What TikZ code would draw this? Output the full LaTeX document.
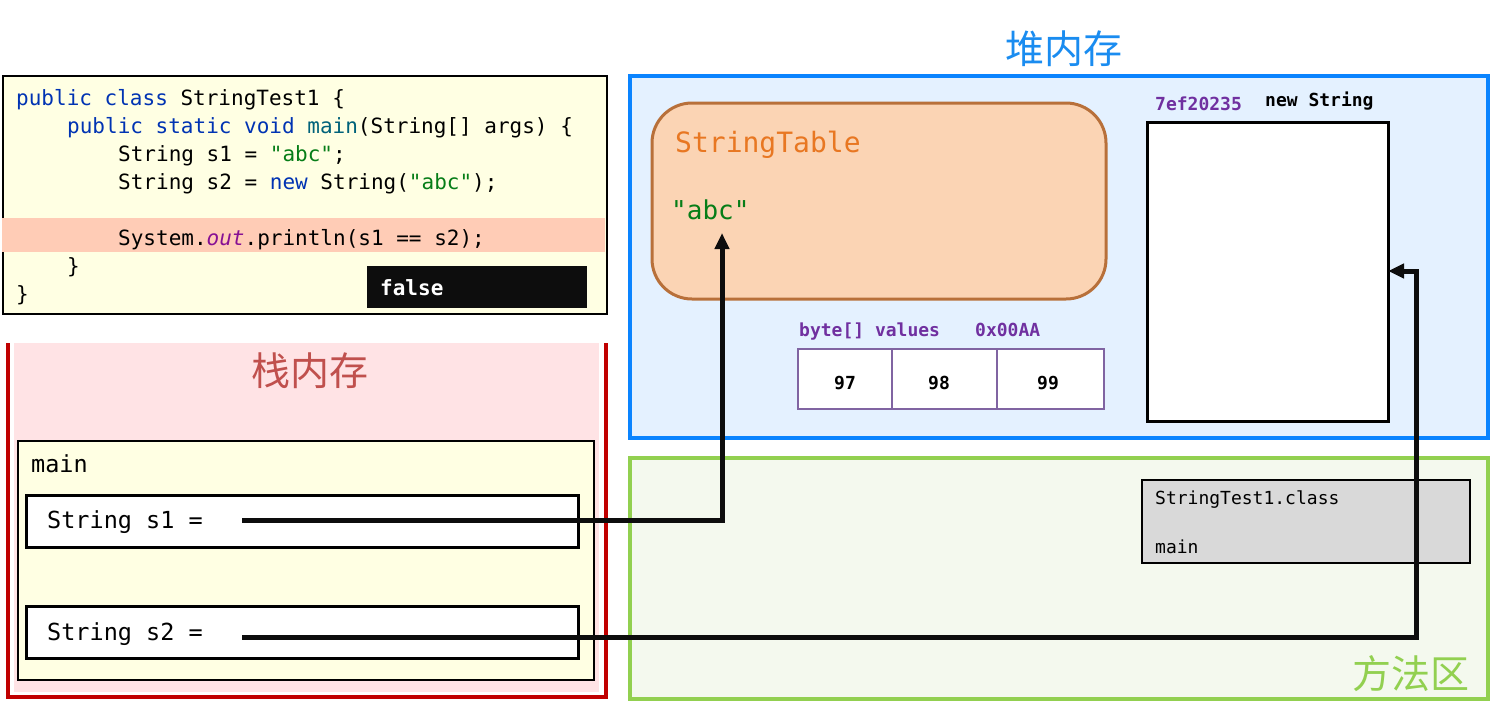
\documentclass[tikz,border=0pt]{standalone}
\usepackage{fontspec}
\setmonofont{DejaVu Sans Mono}
\newfontfamily\cjk{Noto Sans CJK SC}
\usetikzlibrary{arrows.meta}
\definecolor{kw}{HTML}{0033B3}
\definecolor{fn}{HTML}{00627A}
\definecolor{strc}{HTML}{067D17}
\definecolor{fld}{HTML}{871094}
\definecolor{codebg}{HTML}{FFFFE3}
\definecolor{hl}{HTML}{FFCCB6}
\definecolor{heapbd}{HTML}{0A84FF}
\definecolor{heapbg}{HTML}{E4F1FF}
\definecolor{heapt}{HTML}{1A8CF0}
\definecolor{methbd}{HTML}{92D050}
\definecolor{methbg}{HTML}{F4F9EE}
\definecolor{stackbd}{HTML}{C00000}
\definecolor{stackbg}{HTML}{FFE3E5}
\definecolor{stackt}{HTML}{C0504D}
\definecolor{stfill}{HTML}{FBD4B4}
\definecolor{stbd}{HTML}{B8703A}
\definecolor{stt}{HTML}{E87722}
\definecolor{purp}{HTML}{7030A0}
\definecolor{arrbd}{HTML}{8064A2}
\definecolor{clsbg}{HTML}{D9D9D9}
\begin{document}
\begin{tikzpicture}[x=1pt,y=-1pt,
  box/.style={anchor=north west,inner sep=0pt,outer sep=0pt},
  txt/.style={anchor=mid west,inner sep=0pt,yshift=-5pt},
  code/.style={txt,yshift=-1pt,font=\ttfamily\fontsize{21}{25}\selectfont},
  small/.style={txt,font=\ttfamily\bfseries\fontsize{18}{22}\selectfont},
  conn/.style={line width=5pt,black!95},
  tip/.style={-{Triangle[length=16pt,width=14pt]}}
]
\useasboundingbox (0,0) rectangle (1491,702);
% heap
\node[box,draw=heapbd,fill=heapbg,line width=4.5pt,minimum width=858pt,minimum height=362pt] (heap) at (630,76) {};
\node[font=\cjk\fontsize{39}{41}\selectfont,text=heapt,inner sep=0pt] (heapt) at (1064,49) {堆内存};
% method area
\node[box,draw=methbd,fill=methbg,line width=4.5pt,minimum width=858pt,minimum height=241pt] (meth) at (630,458) {};
\node[font=\cjk\fontsize{39}{41}\selectfont,text=methbd,inner sep=0pt] (metht) at (1411,674) {方法区};
% stack
\node[box,fill=stackbg,minimum width=585pt,minimum height=349pt] (stack) at (14,343) {};
\draw[stackbd,line width=4pt] (stack.north west) ++(-6,0) coordinate (sa) -- ++(0,354) coordinate (sb) -- ++(598,0) coordinate (sc) -- ++(0,-354) coordinate (sd);
\node[font=\cjk\fontsize{39}{41}\selectfont,text=stackt,inner sep=0pt] (stackt) at (310,371) {栈内存};
% code box
\node[box,draw=black,fill=codebg,line width=1.2pt,minimum width=604pt,minimum height=238pt] (codebox) at (3,76) {};
\node[box,fill=hl,minimum width=603pt,minimum height=34pt] (hlrow) at (2,218) {};
\node[code] (c1) at (16,97) {\textcolor{kw}{public class} StringTest1 \{};
\node[code] (c2) at (67,125) {\textcolor{kw}{public static void} \textcolor{fn}{main}(String[] args) \{};
\node[code] (c3) at (118,153) {String s1 = \textcolor{strc}{"abc"};};
\node[code] (c4) at (118,181) {String s2 = \textcolor{kw}{new} String(\textcolor{strc}{"abc"});};
\node[code] (c6) at (118,237) {System.\textcolor{fld}{\itshape out}.println(s1 == s2);};
\node[code] (c7) at (67,265) {\}};
\node[code] (c8) at (16,293) {\}};
\node[box,fill=black!95,minimum width=220pt,minimum height=42pt] (out) at (367,266) {};
\node[txt,font=\ttfamily\bfseries\fontsize{21}{25}\selectfont,text=white] (outt) at (380,288) {false};
% stack frame
\node[box,draw=black,fill=codebg,line width=1.8pt,minimum width=576pt,minimum height=239pt] (frame) at (18,441) {};
\node[txt,font=\ttfamily\fontsize{23.5}{27}\selectfont] (framet) at (31,465) {main};
\node[box,draw=black,fill=white,line width=3pt,minimum width=552pt,minimum height=52pt] (s1box) at (26,495) {};
\node[txt,font=\ttfamily\fontsize{23.5}{27}\selectfont] (s1t) at (47,521) {String s1 =};
\node[box,draw=black,fill=white,line width=3pt,minimum width=552pt,minimum height=52pt] (s2box) at (26,606) {};
\node[txt,font=\ttfamily\fontsize{23.5}{27}\selectfont] (s2t) at (47,633) {String s2 =};
% string table
\node[box,draw=stbd,fill=stfill,line width=3pt,rounded corners=40pt,minimum width=454pt,minimum height=196pt] (stable) at (652,103) {};
\node[txt,yshift=-3pt,font=\ttfamily\fontsize{28}{32}\selectfont,text=stt] (stt) at (675,142) {StringTable};
\node[txt,yshift=-3pt,font=\ttfamily\fontsize{26}{30}\selectfont,text=strc] (abc) at (671,209) {"abc"};
% byte array
\node[small,text=purp] (bv) at (799,329) {byte[] values};
\node[small,text=purp] (addr) at (975,329) {0x00AA};
\node[box,draw=arrbd,fill=white,line width=2.2pt,minimum width=306pt,minimum height=60pt] (arr) at (798,349) {};
\draw[arrbd,line width=2.2pt] (892,349) coordinate (d1a) -- (892,409) coordinate (d1b);
\draw[arrbd,line width=2.2pt] (997,349) coordinate (d2a) -- (997,409) coordinate (d2b);
\node[small,anchor=mid] (v1) at (845,382) {97};
\node[small,anchor=mid] (v2) at (939,382) {98};
\node[small,anchor=mid] (v3) at (1048,382) {99};
% new String object
\node[small,text=purp] (oid) at (1155,103) {7ef20235};
\node[small] (ons) at (1265,99) {new String};
\node[box,draw=black,fill=white,line width=3pt,minimum width=241pt,minimum height=299pt] (obj) at (1147,122) {};
% class
\node[box,draw=black,fill=clsbg,line width=2pt,minimum width=328pt,minimum height=83pt] (cls) at (1142,480) {};
\node[txt,font=\ttfamily\fontsize{18}{22}\selectfont] (clst) at (1155,497) {StringTest1.class};
\node[txt,font=\ttfamily\fontsize{18}{22}\selectfont] (clsm) at (1155,546) {main};
% connectors
\coordinate (p1) at (242,520);
\coordinate (t1) at (722,233);
\coordinate (p2) at (242,637);
\coordinate (k2) at (1416,271);
\coordinate (t2) at (1388,271);
\draw[conn,tip] (p1) -| (t1);
\draw[conn,tip] (p2) -| (k2) -- (t2);
\end{tikzpicture}
\end{document}
